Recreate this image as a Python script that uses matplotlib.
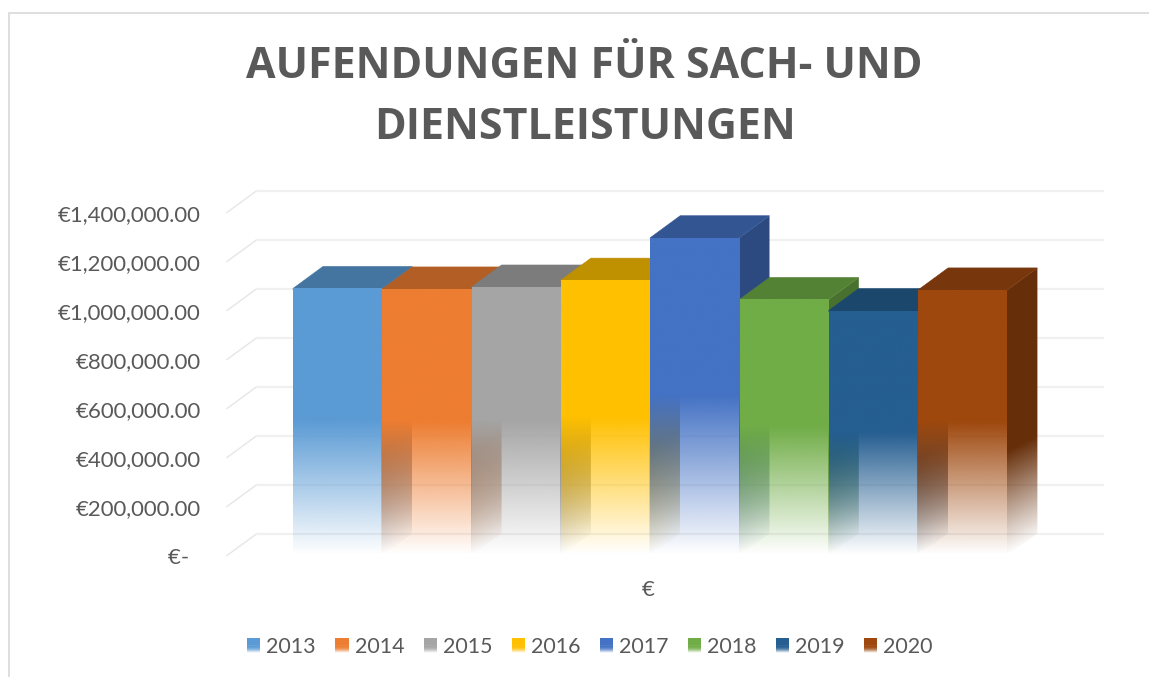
import numpy as np
import matplotlib
matplotlib.use("Agg")
import matplotlib.pyplot as plt
from matplotlib.colors import to_rgb
from matplotlib.legend_handler import HandlerPatch
from matplotlib.patches import Patch, Polygon, Rectangle
from matplotlib.transforms import ScaledTranslation

# data
years = ["2013", "2014", "2015", "2016", "2017", "2018", "2019", "2020"]
values = [1090000, 1088000, 1096000, 1124000, 1297000, 1045000, 1000000, 1084000]
y_ticks = [0, 200000, 400000, 600000, 800000, 1000000, 1200000, 1400000]
y_labels = ["€-  ", "€200,000.00", "€400,000.00", "€600,000.00", "€800,000.00",
            "€1,000,000.00", "€1,200,000.00", "€1,400,000.00"]
colors = ["#5B9BD5", "#ED7D31", "#A5A5A5", "#FFC000", "#4472C4", "#70AD47", "#255E91", "#9E480E"]

W, H = 1149, 677
text_color = "#595959"
depth_x = 30 / 89.3  # fake 3D depth in bar widths
depth_y = 22 / 49 * 200000  # and in euros


def shade(color, factor):
    return tuple(c * factor for c in to_rgb(color))


def fade_face(ax, corners, color, top, z, solid_from=0.5, rise=0.0):
    # solid in the upper part, fading to white at the bottom
    # rise lifts the fade towards the right, for the slanted side faces
    ys = np.linspace(0, 1, 256)[:, None]
    shift = np.linspace(0, rise, 32)[None, :]
    img = np.ones((256, 32, 4))
    img[:, :, :3] = color
    img[:, :, 3] = np.clip((ys - shift) / solid_from, 0, 1)
    xs = [c[0] for c in corners]
    im = ax.imshow(img, extent=[min(xs), max(xs), 0, top], origin="lower",
                   aspect="auto", zorder=z, interpolation="bilinear")
    im.set_clip_path(Polygon(corners, transform=ax.transData))


class FadeHandler(HandlerPatch):
    # legend swatch with the same fade as the bars
    def create_artists(self, legend, orig_handle, xdescent, ydescent, width, height, fontsize, trans):
        parts = []
        n = 14
        for k in range(n):
            a = min(1, (k + 0.5) / n / 0.5)
            parts.append(Rectangle((-xdescent, -ydescent + height * k / n), width, height / n + 0.2,
                                   facecolor=orig_handle.get_facecolor()[:3], alpha=a,
                                   edgecolor="none", transform=trans))
        return parts


fig = plt.figure(figsize=(W / 100, H / 100), dpi=100, facecolor="white")

# thin frame, runs off the right and bottom of the picture
fig.add_artist(Rectangle((9 / W, -0.1), 1.2, 1.1 - 13 / H, transform=fig.transFigure,
                         facecolor="none", edgecolor="#D9D9D9", linewidth=1.2))

# axes are the front plane of the fake 3D box
left, right, base, top = 227, 1103, 555.5, 212.5
ax = fig.add_axes([left / W, 1 - base / H, (right - left) / W, (base - top) / H])
ax.set_xlim((left - 293) / 89.3, (right - 293) / 89.3)
ax.set_ylim(0, 1400000)
ax.patch.set_visible(False)
for s in ax.spines.values():
    s.set_visible(False)
ax.set_autoscale_on(False)

# back wall gridlines and the slanted ones on the side wall
x_start = ax.get_xlim()[0]
for t in y_ticks:
    ax.plot([x_start, x_start + depth_x], [t, t + depth_y], color="#E6E6E6", lw=1.0, clip_on=False, zorder=1)
    ax.plot([x_start + depth_x, ax.get_xlim()[1]], [t + depth_y, t + depth_y], color="#F0F0F0", lw=1.6,
            clip_on=False, zorder=1)

# bars, left to right so each one covers the side of the one before
for i, (v, c) in enumerate(zip(values, colors)):
    z = 2 + i * 3
    x0, x1 = i, i + 1
    # side and lid start a little under the front so no seam shows
    side = [(x1 - 0.01, 0), (x1, 0), (x1 + depth_x, depth_y), (x1 + depth_x, v + depth_y), (x1, v), (x1 - 0.01, v)]
    fade_face(ax, side, shade(c, 0.65), v + depth_y, z, solid_from=0.36, rise=0.7 * depth_y / (v + depth_y))
    lid = [(x0, v - 4000), (x1, v - 4000), (x1, v), (x1 + depth_x, v + depth_y), (x0 + depth_x, v + depth_y), (x0, v)]
    ax.add_patch(Polygon(lid, facecolor=shade(c, 0.75), edgecolor=shade(c, 0.75), linewidth=0.4,
                         zorder=z + 1, clip_on=False))
    front = [(x0, 0), (x1, 0), (x1, v), (x0, v)]
    fade_face(ax, front, to_rgb(c), v, z + 2)

ax.set_xlim((left - 293) / 89.3, (right - 293) / 89.3)
ax.set_ylim(0, 1400000)

ax.set_yticks(y_ticks)
ax.set_yticklabels(y_labels, fontsize=15.9, color=text_color, family="Lato")
ax.tick_params(axis="y", length=0, pad=19)
# labels sit a touch below their gridline
down = ScaledTranslation(0, -1 / 100, fig.dpi_scale_trans)
for lab in ax.get_yticklabels():
    lab.set_transform(lab.get_transform() + down)
ax.set_xticks([3.98])
ax.set_xticklabels(["€"], fontsize=15.9, color=text_color, family="Lato")
ax.tick_params(axis="x", length=0, pad=18)

fig.text(584.5 / W, 1 - 97 / H, "AUFENDUNGEN FÜR SACH- UND\nDIENSTLEISTUNGEN", ha="center", va="center",
         fontsize=30.9, fontweight="bold", family="Open Sans", color=text_color, linespacing=1.52)

handles = [Patch(facecolor=c, label=y) for y, c in zip(years, colors)]
fig.legend(handles=handles, handler_map={Patch: FadeHandler()}, ncol=8, frameon=False,
           loc="center", bbox_to_anchor=(590 / W, 1 - 647 / H), prop={"family": "Lato", "size": 15.4},
           labelcolor=text_color, handlelength=0.61, handleheight=0.66, handletextpad=0.28,
           columnspacing=0.915, borderpad=0)

fig.savefig("out.png", dpi=100)
